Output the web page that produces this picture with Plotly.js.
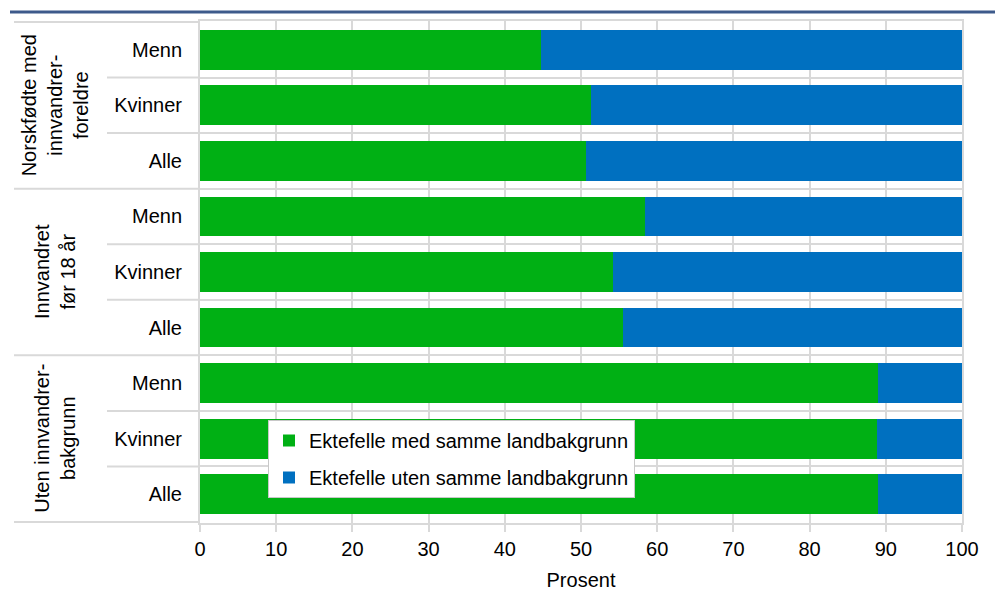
<!DOCTYPE html>
<html>
<head>
<meta charset="utf-8">
<script src="https://cdn.plot.ly/plotly-3.0.1.min.js"></script>
<style>html,body{margin:0;padding:0;background:#fff;}#chart{width:995px;height:595px;}</style>
</head>
<body>
<div id="chart"></div>
<script>
// ---- data ----
const groups = ["Norskfødte med<br>innvandrer-<br>foreldre", "Innvandret<br>før 18 år", "Uten innvandrer-<br>bakgrunn"];
const subgroups = ["Menn", "Kvinner", "Alle"];
const seriesNames = ["Ektefelle med samme landbakgrunn", "Ektefelle uten samme landbakgrunn"];
const sameBackground = [44.7, 51.3, 50.7, 58.4, 54.2, 55.5, 89.0, 88.8, 89.0];
const otherBackground = [55.3, 48.7, 49.3, 41.6, 45.8, 44.5, 11.0, 11.2, 11.0];
const xTicks = [0, 10, 20, 30, 40, 50, 60, 70, 80, 90, 100];

// ---- build categories ----
const catKeys = [], catLabels = [];
groups.forEach((g, gi) => subgroups.forEach(s => { catKeys.push(gi + "|" + s); catLabels.push(s); }));

const FONT = "Liberation Sans, Arial, sans-serif";
const FS = 20;
const GRID = "#d9d9d9";

const traces = [
  {type: "bar", orientation: "h", name: seriesNames[0], y: catKeys, x: sameBackground,
   marker: {color: "#00b014", line: {width: 0}}, legendgroup: "a", hoverinfo: "x"},
  {type: "bar", orientation: "h", name: seriesNames[1], y: catKeys, x: otherBackground,
   marker: {color: "#0070c0", line: {width: 0}}, legendgroup: "b", hoverinfo: "x"}
];

// separators in label area + group labels
const shapes = [];
const annotations = [];
const nSub = subgroups.length;
const grpLeft = (14 - 200) / 762, subLeft = (107 - 200) / 762;
for (let i = 0; i <= catKeys.length; i++) {
  const isGroup = (i % nSub === 0);
  shapes.push({type: "line", xref: "paper", yref: "y", x0: isGroup ? grpLeft : subLeft, x1: 0,
    y0: i - 0.5, y1: i - 0.5, line: {color: GRID, width: 2}, layer: "below"});
}
groups.forEach((g, gi) => {
  annotations.push({text: g, xref: "paper", yref: "y", x: (55 - 200) / 762, y: gi * nSub + (nSub - 1) / 2,
    textangle: -90, showarrow: false, xanchor: "center", yanchor: "middle",
    font: {family: FONT, size: FS, color: "#000"}, align: "center"});
});
// top rule
shapes.push({type: "line", xref: "paper", yref: "paper", x0: (10 - 200) / 762, x1: (995 - 200) / 762,
  y0: (523 - 12) / 502, y1: (523 - 12) / 502, line: {color: "#3d5a8b", width: 3}});

const layout = {
  width: 995, height: 595,
  margin: {l: 200, r: 33, t: 21, b: 72, pad: 0},
  paper_bgcolor: "#fff", plot_bgcolor: "#fff",
  barmode: "stack", bargap: 0.285,
  font: {family: FONT, size: FS, color: "#000"},
  showlegend: true,
  legend: {x: (268 - 200) / 762, y: (523 - 420) / 502, xanchor: "left", yanchor: "top",
    bgcolor: "#fff", bordercolor: "#c8c8c8", borderwidth: 1, tracegroupgap: 8,
    font: {family: FONT, size: FS, color: "#000"}, traceorder: "grouped"},
  xaxis: {range: [0, 100], tickvals: xTicks, ticktext: xTicks.map(String), showgrid: true,
    gridcolor: GRID, gridwidth: 2, zeroline: false, showline: true, mirror: true,
    linecolor: GRID, linewidth: 2, ticks: "outside", ticklen: 7, tickwidth: 2, tickcolor: GRID,
    tickfont: {family: FONT, size: FS, color: "#000"},
    title: {text: "Prosent", font: {family: FONT, size: FS, color: "#000"}, standoff: 14}},
  yaxis: {type: "category", categoryorder: "array", categoryarray: catKeys, autorange: "reversed",
    tickvals: catKeys, ticktext: catLabels, tickson: "boundaries", showgrid: true,
    gridcolor: GRID, gridwidth: 2, showline: true, mirror: true, linecolor: GRID, linewidth: 2,
    ticks: "", ticklabelstandoff: 12, tickfont: {family: FONT, size: FS, color: "#000"}},
  shapes: shapes, annotations: annotations
};

Plotly.newPlot("chart", traces, layout, {displayModeBar: false, staticPlot: true});
</script>
</body>
</html>
